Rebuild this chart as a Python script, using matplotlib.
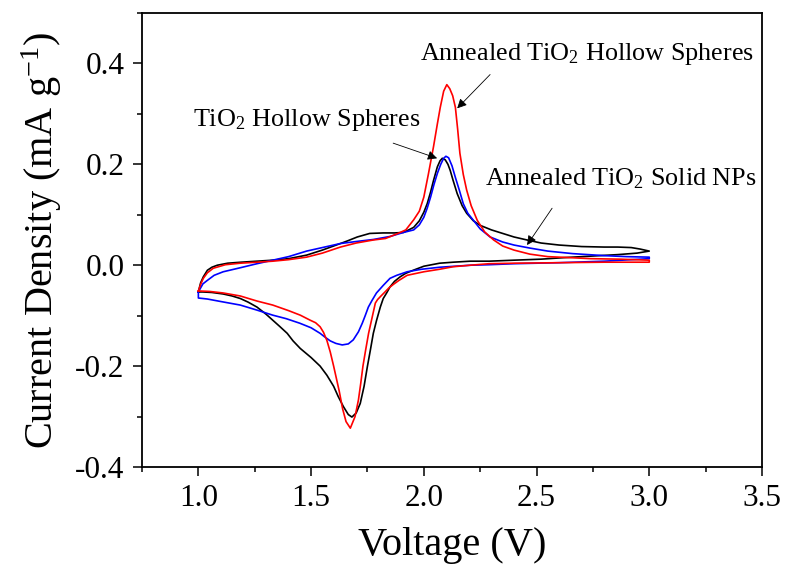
import matplotlib
matplotlib.use("Agg")
import matplotlib.pyplot as plt
from matplotlib.ticker import MultipleLocator

plt.rcParams["font.family"] = ["Liberation Serif", "DejaVu Serif"]
plt.rcParams["mathtext.default"] = "regular"
plt.rcParams["axes.unicode_minus"] = False

# black curve (annealed solid NPs), anodic sweep 1.0 -> 3.0 V
black_v_up = [1.00, 1.01, 1.022, 1.04, 1.06, 1.084, 1.13, 1.19, 1.26, 1.33, 1.40, 1.48, 1.55,
              1.63, 1.66, 1.705, 1.76, 1.82, 1.87, 1.91, 1.955, 1.98, 2.00, 2.015, 2.03,
              2.043, 2.06, 2.072, 2.082, 2.095, 2.107, 2.117, 2.13, 2.148, 2.17, 2.19, 2.22,
              2.25, 2.30, 2.35, 2.40, 2.458, 2.52, 2.60, 2.70, 2.80, 2.86, 2.92, 2.96, 3.00]
black_i_up = [-0.053, -0.035, -0.023, -0.010, -0.004, 0.000, 0.004, 0.006, 0.008, 0.010, 0.013,
              0.020, 0.030, 0.043, 0.048, 0.056, 0.063, 0.064, 0.064, 0.065, 0.075, 0.088,
              0.105, 0.122, 0.145, 0.168, 0.195, 0.207, 0.212, 0.209, 0.200, 0.188, 0.168,
              0.142, 0.118, 0.103, 0.088, 0.079, 0.070, 0.063, 0.056, 0.050, 0.044, 0.040,
              0.037, 0.036, 0.036, 0.035, 0.032, 0.028]
# black curve, cathodic sweep 3.0 -> 1.0 V
black_v_dn = [3.00, 2.946, 2.86, 2.74, 2.62, 2.52, 2.40, 2.29, 2.206, 2.13, 2.07, 2.00, 1.953,
              1.92, 1.895, 1.87, 1.85, 1.835, 1.82, 1.807, 1.79, 1.776, 1.763, 1.75, 1.735,
              1.718, 1.70, 1.681, 1.665, 1.643, 1.62, 1.60, 1.57, 1.54, 1.50, 1.452, 1.42,
              1.394, 1.36, 1.33, 1.30, 1.26, 1.22, 1.186, 1.15, 1.11, 1.06, 1.02, 1.00]
black_i_dn = [0.028, 0.024, 0.021, 0.018, 0.015, 0.012, 0.010, 0.008, 0.008, 0.006, 0.004,
              -0.002, -0.010, -0.016, -0.023, -0.032, -0.043, -0.055, -0.066, -0.083, -0.110,
              -0.135, -0.168, -0.200, -0.240, -0.274, -0.293, -0.301, -0.296, -0.280, -0.260,
              -0.240, -0.218, -0.200, -0.183, -0.165, -0.150, -0.135, -0.121, -0.109, -0.097,
              -0.083, -0.073, -0.066, -0.061, -0.057, -0.054, -0.053, -0.053]

# blue curve (TiO2 hollow spheres)
blue_v_up = [1.00, 1.01, 1.02, 1.04, 1.07, 1.11, 1.186, 1.26, 1.33, 1.40, 1.48, 1.55, 1.63,
             1.70, 1.776, 1.85, 1.91, 1.955, 1.98, 2.00, 2.015, 2.03, 2.045, 2.06, 2.075,
             2.088, 2.098, 2.11, 2.125, 2.14, 2.158, 2.175, 2.195, 2.22, 2.25, 2.294, 2.35,
             2.40, 2.47, 2.55, 2.66, 2.80, 2.90, 3.00]
blue_i_up = [-0.053, -0.045, -0.037, -0.030, -0.020, -0.013, -0.005, 0.003, 0.010, 0.017,
             0.028, 0.035, 0.043, 0.047, 0.051, 0.057, 0.065, 0.070, 0.080, 0.095, 0.113,
             0.135, 0.160, 0.182, 0.200, 0.212, 0.216, 0.213, 0.197, 0.174, 0.148, 0.122,
             0.103, 0.089, 0.072, 0.056, 0.046, 0.040, 0.034, 0.028, 0.023, 0.019, 0.017, 0.016]
blue_v_dn = [3.00, 2.80, 2.60, 2.40, 2.29, 2.206, 2.07, 1.99, 1.926, 1.88, 1.85, 1.82, 1.79,
             1.77, 1.754, 1.74, 1.727, 1.71, 1.687, 1.665, 1.638, 1.61, 1.585, 1.56, 1.54,
             1.50, 1.45, 1.39, 1.33, 1.26, 1.186, 1.10, 1.04, 1.00, 1.00]
blue_i_dn = [0.013, 0.008, 0.005, 0.003, 0.001, 0.000, -0.004, -0.008, -0.013, -0.020, -0.026,
             -0.040, -0.055, -0.070, -0.083, -0.100, -0.115, -0.132, -0.148, -0.156, -0.158,
             -0.155, -0.150, -0.142, -0.135, -0.124, -0.115, -0.106, -0.099, -0.089, -0.079,
             -0.072, -0.067, -0.065, -0.053]

# red curve (annealed TiO2 hollow spheres)
red_v_up = [1.00, 1.01, 1.022, 1.04, 1.066, 1.12, 1.186, 1.26, 1.33, 1.40, 1.48, 1.55, 1.63,
            1.70, 1.776, 1.83, 1.88, 1.92, 1.955, 1.98, 2.00, 2.02, 2.043, 2.06, 2.073, 2.088,
            2.102, 2.115, 2.128, 2.14, 2.15, 2.16, 2.175, 2.19, 2.21, 2.237, 2.27, 2.31, 2.35,
            2.40, 2.47, 2.55, 2.65, 2.74, 2.87, 3.00]
red_i_up = [-0.051, -0.038, -0.026, -0.015, -0.006, 0.001, 0.004, 0.006, 0.008, 0.011, 0.016,
            0.024, 0.036, 0.044, 0.050, 0.053, 0.062, 0.070, 0.090, 0.107, 0.135, 0.180,
            0.235, 0.280, 0.313, 0.345, 0.358, 0.350, 0.336, 0.313, 0.270, 0.222, 0.180,
            0.149, 0.118, 0.089, 0.066, 0.050, 0.038, 0.030, 0.022, 0.017, 0.015, 0.013,
            0.012, 0.010]
red_v_dn = [3.00, 2.80, 2.60, 2.40, 2.29, 2.206, 2.13, 2.07, 2.00, 1.926, 1.89, 1.865, 1.845,
            1.83, 1.81, 1.795, 1.785, 1.77, 1.755, 1.742, 1.73, 1.72, 1.71, 1.695, 1.674,
            1.655, 1.64, 1.625, 1.61, 1.60, 1.585, 1.57, 1.555, 1.54, 1.52, 1.496, 1.452,
            1.40, 1.33, 1.26, 1.186, 1.11, 1.05, 1.00]
red_i_dn = [0.006, 0.006, 0.005, 0.004, 0.003, 0.000, -0.003, -0.008, -0.013, -0.020, -0.030,
            -0.038, -0.045, -0.052, -0.061, -0.068, -0.075, -0.105, -0.135, -0.168, -0.200,
            -0.235, -0.267, -0.300, -0.323, -0.310, -0.285, -0.250, -0.220, -0.200, -0.172,
            -0.149, -0.133, -0.122, -0.114, -0.109, -0.099, -0.090, -0.079, -0.071, -0.061,
            -0.055, -0.052, -0.051]

fig = plt.figure(figsize=(7.85, 5.67), dpi=100)
ax = fig.add_axes([142 / 785, 1 - 467 / 567, 620 / 785, 454 / 567])

lw = 1.2
ax.plot(black_v_up + black_v_dn, black_i_up + black_i_dn, color="black", lw=lw)
ax.plot(blue_v_up + blue_v_dn, blue_i_up + blue_i_dn, color="#0000ff", lw=lw)
ax.plot(red_v_up + red_v_dn, red_i_up + red_i_dn, color="#ff0000", lw=lw)

ax.set_xlim(0.75, 3.5)
ax.set_ylim(-0.4, 0.5)
ax.xaxis.set_minor_locator(MultipleLocator(0.25))
ax.yaxis.set_minor_locator(MultipleLocator(0.1))
ax.set_xticks([1.0, 1.5, 2.0, 2.5, 3.0, 3.5])
ax.set_yticks([-0.4, -0.2, 0.0, 0.2, 0.4])
ax.set_xticklabels(["1.0", "1.5", "2.0", "2.5", "3.0", "3.5"])
ax.set_yticklabels(["-0.4", "-0.2", "0.0", "0.2", "0.4"])
ax.tick_params(which="major", direction="out", length=6.5, width=1.1, labelsize=22.5, pad=6)
ax.tick_params(which="minor", direction="out", length=3.5, width=1.1)
for spine in ax.spines.values():
    spine.set_linewidth(1.3)

ax.set_xlabel("Voltage (V)", fontsize=29, va="center")
ax.xaxis.set_label_coords(0.5, -0.172)
ax.set_ylabel("Current Density (mA g$^{-1}$)", fontsize=29, va="center")
ax.yaxis.set_label_coords(-0.162, 0.5)

arrow = dict(arrowstyle="-|>", color="black", lw=0.6, mutation_scale=14, shrinkA=0, shrinkB=0)
ax.annotate("", xy=(2.148, 0.311), xytext=(2.294, 0.378), arrowprops=arrow)
ax.annotate("", xy=(2.059, 0.212), xytext=(1.864, 0.242), arrowprops=arrow)
ax.annotate("", xy=(2.458, 0.040), xytext=(2.569, 0.113), arrowprops=arrow)

ax.text(1.984, 0.406, "Annealed TiO$_2$ Hollow Spheres", fontsize=18.8, ha="left", va="baseline")
ax.text(0.978, 0.275, "TiO$_2$ Hollow Spheres", fontsize=18.8, ha="left", va="baseline")
ax.text(2.272, 0.158, "Annealed TiO$_2$ Solid NPs", fontsize=18.8, ha="left", va="baseline")

fig.savefig("out.png", dpi=100)
